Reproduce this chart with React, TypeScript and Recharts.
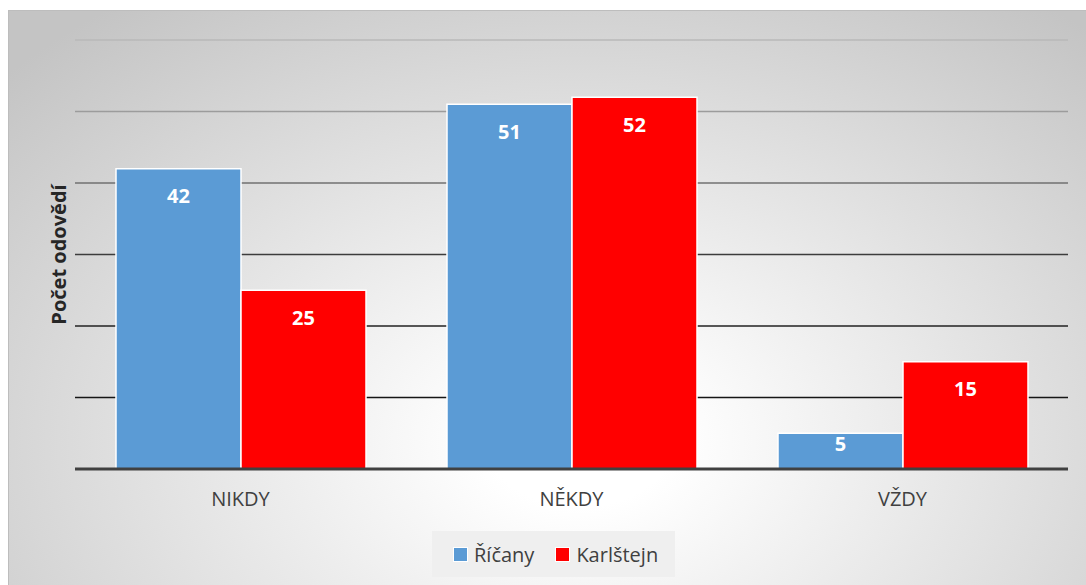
import React from 'react';
import { BarChart, Bar, XAxis, YAxis, CartesianGrid, Legend, LabelList } from 'recharts';

const categories = ['NIKDY', 'NĚKDY', 'VŽDY'];
const ricany = [42, 51, 5];
const karlstejn = [25, 52, 15];
const yTicks = [0, 10, 20, 30, 40, 50, 60];
const seriesOrder = ['Říčany', 'Karlštejn'];

const FONT = '"Open Sans", sans-serif';
const BLUE = '#5b9bd5';
const RED = '#ff0000';
// gridlines fade from light grey at the top to near black at the bottom
const gridShades = ['#b8b8b8', '#9c9c9c', '#707070', '#3c3c3c', '#222222', '#161616', '#404040'];

const data = categories.map((name, i) => ({ name, ricany: ricany[i], karlstejn: karlstejn[i] }));

const gridCoords = (props: any) => {
  const scale = props?.yAxis?.scale;
  if (typeof scale === 'function') return yTicks.map((t) => scale(t));
  if (scale && typeof scale.map === 'function') return yTicks.map((t) => scale.map(t));
  return [];
};

const renderGridLine = (props: any) => {
  const { x1, x2, y1, y2, offset } = props;
  const top = offset?.top ?? 30;
  const h = offset?.height ?? 429;
  const idx = Math.max(0, Math.min(6, Math.round(((y1 - top) / h) * 6)));
  return <line key={`g-${y1}`} x1={x1} x2={x2} y1={y1} y2={y2} stroke={gridShades[idx]} strokeWidth={1.5} />;
};

// white bold value near the top of each bar, pulled up for short bars
const renderValue = (props: any) => {
  const { x, y, width, height, value } = props;
  const off = Math.min(27, height * 0.3);
  return (
    <text
      x={x + width / 2}
      y={y + off}
      textAnchor="middle"
      dominantBaseline="central"
      fill="#fff"
      fontWeight={700}
      fontSize={20}
      fontFamily={FONT}
    >
      {value}
    </text>
  );
};

const renderYLabel = (props: any) => {
  const { viewBox } = props;
  const cx = viewBox.x + viewBox.width - 17;
  const cy = viewBox.y + viewBox.height / 2;
  return (
    <text
      x={cx}
      y={cy}
      transform={`rotate(-90, ${cx}, ${cy})`}
      textAnchor="middle"
      dominantBaseline="central"
      fill="#262626"
      fontWeight={700}
      fontSize={20}
      fontFamily={FONT}
    >
      Počet odovědí
    </text>
  );
};

const renderLegend = (props: any) => {
  const payload = [...(props.payload || [])].sort(
    (a: any, b: any) => seriesOrder.indexOf(a.value) - seriesOrder.indexOf(b.value)
  );
  return (
    <div
      style={{
        display: 'flex',
        alignItems: 'center',
        background: '#efefef',
        width: 243,
        height: 46,
        paddingLeft: 21,
        boxSizing: 'border-box',
        fontFamily: FONT,
        fontSize: 20,
        color: '#404040',
      }}
    >
      {payload.map((entry: any, i: number) => (
        <div key={i} style={{ display: 'flex', alignItems: 'center', marginRight: 21 }}>
          <span
            style={{
              display: 'inline-block',
              width: 13,
              height: 13,
              background: entry.color,
              border: '1px solid #fff',
              marginRight: 6,
            }}
          />
          <span>{entry.value}</span>
        </div>
      ))}
    </div>
  );
};

export default function App() {
  return (
    <>
      <style>{`body{margin:0;overflow:hidden;background:#fff}`}</style>
      <div
        style={{
          position: 'absolute',
          left: 8,
          top: 10,
          width: 1078,
          height: 575,
          borderTop: '1px solid #bdbdbd',
          borderLeft: '1px solid #bdbdbd',
          boxSizing: 'border-box',
          background:
            'radial-gradient(ellipse 72% 95% at 53% 75%, #ffffff 0%, #ffffff 12%, #c4c4c4 100%)',
        }}
      >
        <div style={{ position: 'absolute', left: -1, top: -1 }}>
          <BarChart
            width={1078}
            height={575}
            data={data}
            margin={{ top: 30, right: 18, left: 0, bottom: 86 }}
            barCategoryGap={41}
            barGap={0}
          >
            <CartesianGrid
              vertical={false}
              horizontal={renderGridLine}
              horizontalCoordinatesGenerator={gridCoords}
            />
            <XAxis
              dataKey="name"
              axisLine={{ stroke: '#404040', strokeWidth: 3 }}
              tickLine={false}
              tickSize={0}
              tickMargin={23}
              tick={{ fontSize: 20, fill: '#404040', fontFamily: FONT }}
            />
            <YAxis
              width={67}
              domain={[0, 60]}
              ticks={yTicks}
              tick={() => <g />}
              axisLine={false}
              tickLine={false}
              label={{ content: renderYLabel }}
            />
            <Legend
              layout="horizontal"
              verticalAlign="middle"
              align="center"
              wrapperStyle={{ top: 521, left: 424, width: 243, height: 46 }}
              content={renderLegend}
            />
            <Bar dataKey="ricany" name="Říčany" fill={BLUE} stroke="#fff" strokeWidth={1.5} isAnimationActive={false}>
              <LabelList dataKey="ricany" content={renderValue} />
            </Bar>
            <Bar dataKey="karlstejn" name="Karlštejn" fill={RED} stroke="#fff" strokeWidth={1.5} isAnimationActive={false}>
              <LabelList dataKey="karlstejn" content={renderValue} />
            </Bar>
          </BarChart>
        </div>
      </div>
    </>
  );
}
